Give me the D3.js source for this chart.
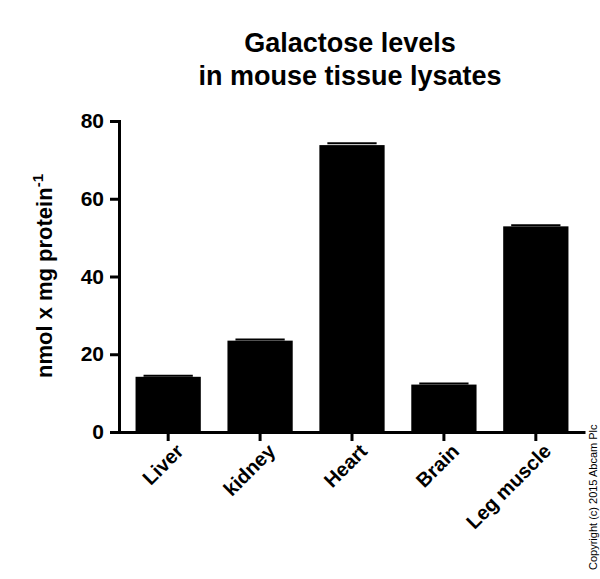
<!DOCTYPE html>
<html><head><meta charset="utf-8">
<script src="https://cdn.jsdelivr.net/npm/d3@7"></script>
<style>body{margin:0;background:#fff}text{font-family:Arial,"Liberation Sans",sans-serif}</style>
</head><body><svg width="600" height="579"></svg>
<script>
const tissues = ['Liver', 'kidney', 'Heart', 'Brain', 'Leg muscle'];
const levels = [14.2, 23.5, 73.8, 12.2, 52.9];
const errors = [0.3, 0.3, 0.5, 0.3, 0.3];
const yTicks = [0, 20, 40, 60, 80];

const svg = d3.select('svg');
const x = d3.scaleBand().domain(tissues).range([119, 585]).paddingInner(0.29).paddingOuter(0.18);
const y = d3.scaleLinear().domain([0, 80]).range([432, 121]);

// bars
svg.selectAll('rect.bar').data(levels).join('rect')
  .attr('x', (d, i) => x(tissues[i]))
  .attr('y', d => y(d))
  .attr('width', x.bandwidth())
  .attr('height', d => y(0) - y(d))
  .attr('fill', '#000');

// error caps
svg.selectAll('line.err').data(levels).join('line')
  .attr('x1', (d, i) => x(tissues[i]) + 8)
  .attr('x2', (d, i) => x(tissues[i]) + x.bandwidth() - 8)
  .attr('y1', (d, i) => y(d + errors[i]))
  .attr('y2', (d, i) => y(d + errors[i]))
  .attr('stroke', '#000').attr('stroke-width', 2);

// axes
const yAxis = svg.append('g').attr('transform', 'translate(119,0)')
  .call(d3.axisLeft(y).tickValues(yTicks).tickSize(9).tickPadding(6));
yAxis.select('.domain').attr('stroke-width', 3);
yAxis.selectAll('.tick line').attr('stroke-width', 3);
yAxis.selectAll('text').attr('font-size', 21).attr('font-weight', 'bold').attr('fill', '#000');

const xAxis = svg.append('g').attr('transform', 'translate(0,432)')
  .call(d3.axisBottom(x).tickSize(9).tickSizeOuter(0));
xAxis.select('.domain').attr('stroke-width', 3);
xAxis.selectAll('.tick line').attr('stroke-width', 3);
xAxis.selectAll('text').attr('font-size', 20).attr('font-weight', 'bold').attr('fill', '#000')
  .attr('text-anchor', 'end').attr('dy', 0)
  .attr('transform', 'translate(8,12) rotate(-45)');

// title
svg.append('text').attr('x', 350).attr('y', 52).attr('text-anchor', 'middle')
  .attr('font-size', 27).attr('font-weight', 'bold').text('Galactose levels');
svg.append('text').attr('x', 350).attr('y', 85).attr('text-anchor', 'middle')
  .attr('font-size', 27).attr('font-weight', 'bold').text('in mouse tissue lysates');

// y label
const yl = svg.append('text').attr('transform', 'translate(52,276) rotate(-90)')
  .attr('text-anchor', 'middle').attr('font-size', 22).attr('font-weight', 'bold');
yl.append('tspan').text('nmol x mg protein');
yl.append('tspan').attr('dy', -9).attr('font-size', 15).text('-1');

// copyright
svg.append('text').attr('transform', 'translate(597,570) rotate(-90)')
  .attr('font-size', 11).text('Copyright (c) 2015 Abcam Plc');
</script></body></html>
